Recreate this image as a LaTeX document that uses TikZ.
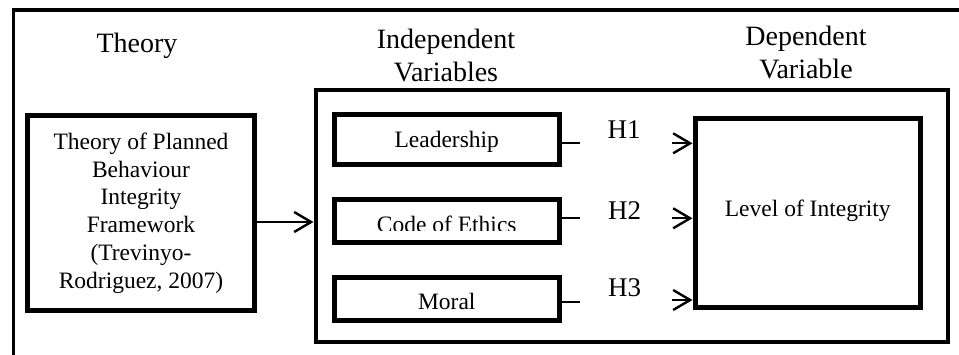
\documentclass[tikz,border=0pt]{standalone}
\usepackage{fontspec}
\setmainfont{Liberation Serif}
\usetikzlibrary{arrows.meta}
\begin{document}
\begin{tikzpicture}[x=1pt,y=-1pt,
  head/.style={font=\fontsize{28pt}{33pt}\selectfont, align=center, inner sep=0pt},
  hyp/.style={font=\fontsize{27pt}{30pt}\selectfont, inner sep=0pt, anchor=base},
  box/.style={draw, line width=5pt, inner sep=0pt, align=center,
    font=\fontsize{23.5pt}{27.8pt}\selectfont},
  ivbox/.style={box, minimum width=225.5pt, minimum height=#1},
  stub/.style={line width=2pt},
  arr/.style={line width=1.8pt, -{Straight Barb[length=17pt,width=20pt,line width=2.4pt]}}]
\useasboundingbox (0,0) rectangle (959,355);

% open frame round the whole model
\draw[line width=3.5pt] (13.5,365) -- (13.5,10) -- (970,10);

% column headings
\node[head] (thhead) at (137,45.5) {Theory};
\node[head, text depth=0pt] (ivhead) at (446,55) {Independent\\Variables};
\node[head, text depth=0pt] (dvhead) at (806,52) {Dependent\\Variable};

% theory box
\node[box, minimum width=227pt, minimum height=195pt] (theory) at (141,213)
  {Theory of Planned\\Behaviour\\Integrity\\Framework\\(Trevinyo-\\Rodriguez, 2007)};

% frame holding the variables
\node[draw, line width=4pt, minimum width=632pt, minimum height=252pt, inner sep=0pt]
  (model) at (631.5,216.5) {};

\draw[arr] (theory.east |- 0,222) -- (model.west |- 0,222);

% independent variables
\node[ivbox=50pt, text height=26pt, text depth=9.6pt] (lead) at (446.75,139.5) {Leadership};
\node[ivbox=43pt] (coe) at (446.75,221) {};
\begin{scope}
  \clip (coe.north west) rectangle (coe.east |- 0,230.5);
  \node[font=\fontsize{23.5pt}{27.8pt}\selectfont, anchor=base, inner sep=0pt]
    (coetext) at (446.75,232.5) {Code of Ethics};
\end{scope}
\node[ivbox=43pt, text height=26pt, text depth=5pt] (moral) at (446.75,299) {Moral};

% dependent variable
\node[box, minimum width=225.5pt, minimum height=189pt, text height=16pt, text depth=8.6pt]
  (dv) at (807.75,213) {Level of Integrity};

% hypotheses
\coordinate (s1) at (580,143.3);
\coordinate (s2) at (580,218);
\coordinate (s3) at (580,301.7);
\draw[stub] (lead.east |- s1) -- (s1);
\draw[stub] (coe.east |- s2) -- (s2);
\draw[stub] (moral.east |- s3) -- (s3);

\node[hyp] (h1) at (624,139) {H1};
\node[hyp] (h2) at (624.5,220) {H2};
\node[hyp] (h3) at (624.5,297) {H3};

\coordinate (a1) at (672,143.3);
\coordinate (a2) at (672,218.3);
\coordinate (a3) at (672,300);
\draw[arr] (a1) -- (dv.west |- a1);
\draw[arr] (a2) -- (dv.west |- a2);
\draw[arr] (a3) -- (dv.west |- a3);
\end{tikzpicture}
\end{document}
